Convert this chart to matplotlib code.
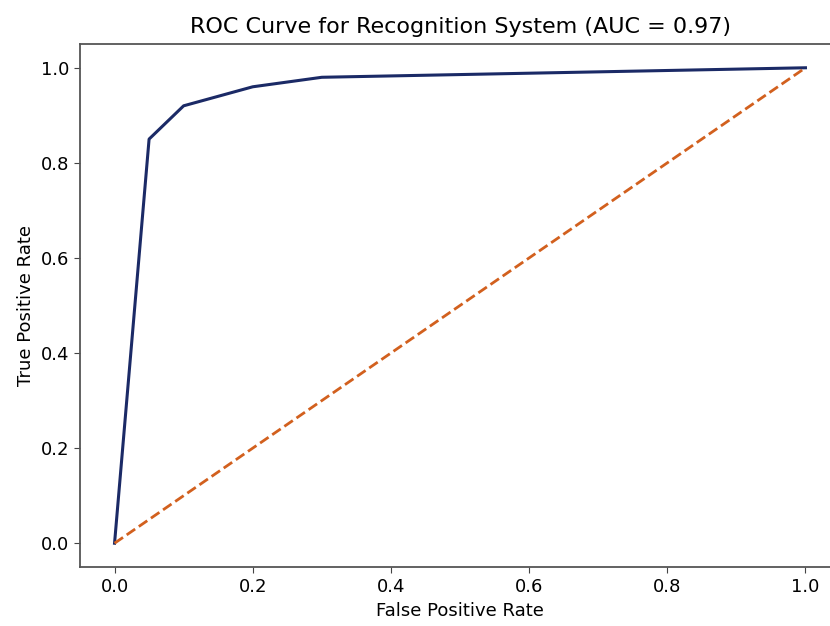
import numpy as np
import matplotlib
matplotlib.use("Agg")
import matplotlib.pyplot as plt

# ROC data
fpr = [0.0, 0.05, 0.1, 0.2, 0.3, 1.0]
tpr = [0.0, 0.85, 0.92, 0.96, 0.98, 1.0]
diag = [0.0, 1.0]
auc_value = 0.97

fig = plt.figure(figsize=(8.3, 6.26), dpi=100)
ax = fig.add_axes([80 / 830, 1 - 567 / 626, 760 / 830, 523 / 626])

ax.plot(fpr, tpr, color="#1b2a66", lw=2.2)
ax.plot(diag, diag, color="#d2601e", lw=2.0, linestyle="--")

ax.set_xlim(-0.05, 1.05)
ax.set_ylim(-0.05, 1.05)
ax.set_xticks([0.0, 0.2, 0.4, 0.6, 0.8, 1.0])
ax.set_yticks([0.0, 0.2, 0.4, 0.6, 0.8, 1.0])
ax.tick_params(labelsize=13, length=4.5, color="#444444")
for s in ax.spines.values():
    s.set_color("#555555")
    s.set_linewidth(1.3)

ax.set_xlabel("False Positive Rate", fontsize=13)
ax.set_ylabel("True Positive Rate", fontsize=13)
ax.set_title(f"ROC Curve for Recognition System (AUC = {auc_value:.2f})", fontsize=16, pad=8)

fig.savefig("out.png", dpi=100)
